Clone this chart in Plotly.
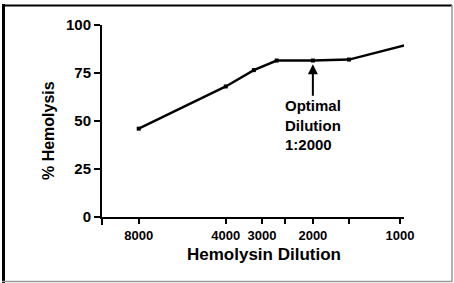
import math
import plotly.graph_objects as go

# Data
dilution = [8000, 4000, 3200, 2667, 2000, 1500, 960]
hemolysis = [46, 68, 76.5, 81.5, 81.5, 82, 89.5]
x_tick_vals = [8000, 4000, 3000, 2500, 2000, 1500, 1000]
x_tick_text = ["8000", "4000", "3000", "", "2000", "", "1000"]
y_tick_vals = [0, 25, 50, 75, 100]

W, H = 454, 283
L, R, T, B = 102, 50, 25, 66
pw, ph = W - L - R, H - T - B

def px(x):
    return (x - L) / pw

def py(y):
    return (H - B - y) / ph

FONT = "Liberation Sans, Arial, Helvetica, sans-serif"

fig = go.Figure()
fig.add_trace(go.Scatter(
    x=dilution, y=hemolysis, mode="lines+markers",
    line=dict(color="black", width=2.4),
    marker=dict(symbol="square", size=4, color="black"),
    cliponaxis=False, showlegend=False,
))

fig.update_layout(
    width=W, height=H,
    margin=dict(l=L, r=R, t=T, b=B, pad=0),
    paper_bgcolor="white", plot_bgcolor="white",
    font=dict(family=FONT, color="black"),
    xaxis=dict(
        type="log", range=[4.030, 2.986], autorange=False,
        showgrid=False, zeroline=False,
        showline=True, linecolor="black", linewidth=2,
        ticks="outside", ticklen=5, tickwidth=2, tickcolor="black",
        tickvals=x_tick_vals, ticktext=x_tick_text,
        tickfont=dict(size=13, family=FONT, weight="bold"),
    ),
    yaxis=dict(
        range=[0, 100], autorange=False,
        showgrid=False, zeroline=False,
        showline=True, linecolor="black", linewidth=2,
        ticks="outside", ticklen=6, tickwidth=2, tickcolor="black",
        tickvals=y_tick_vals,
        tickfont=dict(size=15, family=FONT, weight="bold"),
    ),
)

# Axis titles
fig.add_annotation(text="% Hemolysis", xref="paper", yref="paper",
                   x=px(48), y=py(131), xanchor="center", yanchor="middle",
                   textangle=-90, showarrow=False,
                   font=dict(size=16, family=FONT, weight="bold"))
fig.add_annotation(text="Hemolysin Dilution", xref="paper", yref="paper",
                   x=px(264), y=py(254), xanchor="center", yanchor="middle",
                   showarrow=False,
                   font=dict(size=17, family=FONT, weight="bold"))

# Optimal dilution arrow
fig.add_annotation(text="Optimal<br>Dilution<br>1:2000", x=math.log10(2000), y=79.5,
                   xref="x", yref="y", showarrow=True, ax=0, ay=61,
                   arrowhead=2, arrowsize=1, arrowwidth=2, arrowcolor="black",
                   align="left", font=dict(size=15, family=FONT, weight="bold"))

# Y axis extension below origin
fig.add_shape(type="line", xref="paper", yref="paper", x0=0, x1=0, y0=0, y1=py(225),
              line=dict(color="black", width=2))

# Image frame
fig.add_shape(type="line", xref="paper", yref="paper", x0=px(3.5), x1=px(3.5),
              y0=py(4), y1=py(283), line=dict(color="black", width=3))
fig.add_shape(type="line", xref="paper", yref="paper", x0=px(2), x1=px(452),
              y0=py(5.5), y1=py(5.5), line=dict(color="black", width=2))
fig.add_shape(type="line", xref="paper", yref="paper", x0=px(452), x1=px(452),
              y0=py(5), y1=py(282), line=dict(color="#9a9a9a", width=1.5))
fig.add_shape(type="line", xref="paper", yref="paper", x0=px(2), x1=px(452),
              y0=py(281.5), y1=py(281.5), line=dict(color="#9a9a9a", width=1.5))

fig.write_html(
    "out.html",
    config={"displayModeBar": False},
    post_script="document.body.style.margin='0';document.body.style.overflow='hidden';",
)
